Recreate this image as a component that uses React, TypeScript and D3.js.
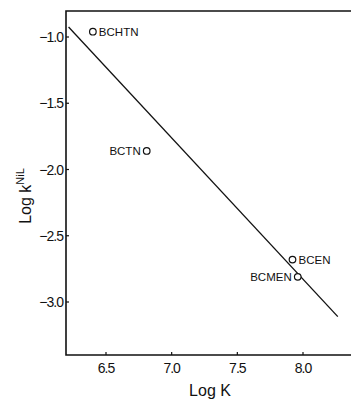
import React, { useEffect, useRef } from "react"
import * as d3 from "d3"

// points
const names = ["BCHTN", "BCTN", "BCEN", "BCMEN"]
const logK = [6.4, 6.81, 7.92, 7.96]
const logKNiL = [-0.96, -1.86, -2.68, -2.81]
const labelSide = ["right", "left", "right", "left"]

// fitted line ends
const lineX = [6.215, 8.265]
const lineY = [-0.925, -3.11]

const xTicks = [6.5, 7.0, 7.5, 8.0]
const yTicks = [-1.0, -1.5, -2.0, -2.5, -3.0]

export default function App() {
  const ref = useRef<SVGSVGElement>(null)

  useEffect(() => {
    const svg = d3.select(ref.current)
    svg.selectAll("*").remove()

    const left = 66, top = 11, right = 351, bottom = 355
    const x = d3.scaleLinear().domain([6.5, 8.0]).range([106, 303])
    const y = d3.scaleLinear().domain([-1.0, -3.0]).range([37, 302])
    const font = "Liberation Sans, Arial, sans-serif"

    // frame
    svg.append("path")
      .attr("d", `M${right},${top}H${left}V${bottom}H${right}`)
      .attr("fill", "none").attr("stroke", "#111").attr("stroke-width", 1.6)

    const xa = svg.append("g")
    xTicks.forEach(t => {
      xa.append("line").attr("x1", x(t)).attr("x2", x(t))
        .attr("y1", bottom - 3).attr("y2", bottom)
        .attr("stroke", "#111").attr("stroke-width", 1.2)
      xa.append("text").attr("x", x(t)).attr("y", bottom + 18)
        .attr("text-anchor", "middle").attr("font-family", font)
        .attr("font-size", 14).attr("fill", "#111")
        .attr("letter-spacing", -1)
        .text(t.toFixed(1))
    })

    const ya = svg.append("g")
    yTicks.forEach(t => {
      ya.append("line").attr("x1", left).attr("x2", left + 3)
        .attr("y1", y(t)).attr("y2", y(t))
        .attr("stroke", "#111").attr("stroke-width", 1.2)
      ya.append("text").attr("x", left - 3).attr("y", y(t) + 5)
        .attr("text-anchor", "end").attr("font-family", font)
        .attr("font-size", 14).attr("fill", "#111")
        .attr("letter-spacing", -1)
        .text(t.toFixed(1).replace("-", "\u2212"))
    })

    // axis titles
    svg.append("text").attr("x", 210).attr("y", 396)
      .attr("text-anchor", "middle").attr("font-family", font)
      .attr("font-size", 16).attr("fill", "#111").text("Log K")

    const yt = svg.append("text")
      .attr("transform", "translate(31,196) rotate(-90)")
      .attr("text-anchor", "middle").attr("font-family", font)
      .attr("font-size", 16).attr("fill", "#111")
    yt.append("tspan").text("Log k")
    yt.append("tspan").attr("dy", -7).attr("font-size", 11).text("NiL")

    // line
    const line = d3.line<number>().x((d, i) => x(lineX[i])).y((d, i) => y(lineY[i]))
    svg.append("path").datum(lineX).attr("d", line)
      .attr("fill", "none").attr("stroke", "#111").attr("stroke-width", 1.3)

    // points
    const pts = svg.append("g")
    names.forEach((n, i) => {
      const cx = x(logK[i]), cy = y(logKNiL[i])
      pts.append("circle").attr("cx", cx).attr("cy", cy).attr("r", 3.3)
        .attr("fill", "#fff").attr("stroke", "#111").attr("stroke-width", 1.2)
      const r = labelSide[i] === "right"
      pts.append("text").attr("x", r ? cx + 6 : cx - 6).attr("y", cy + 4.5)
        .attr("text-anchor", r ? "start" : "end").attr("font-family", font)
        .attr("font-size", 11.5).attr("fill", "#111")
        .text(n)
    })
  }, [])

  return (
    <svg ref={ref} width={351} height={402}
      style={{ position: "absolute", left: 0, top: 0, background: "#fff" }} />
  )
}
